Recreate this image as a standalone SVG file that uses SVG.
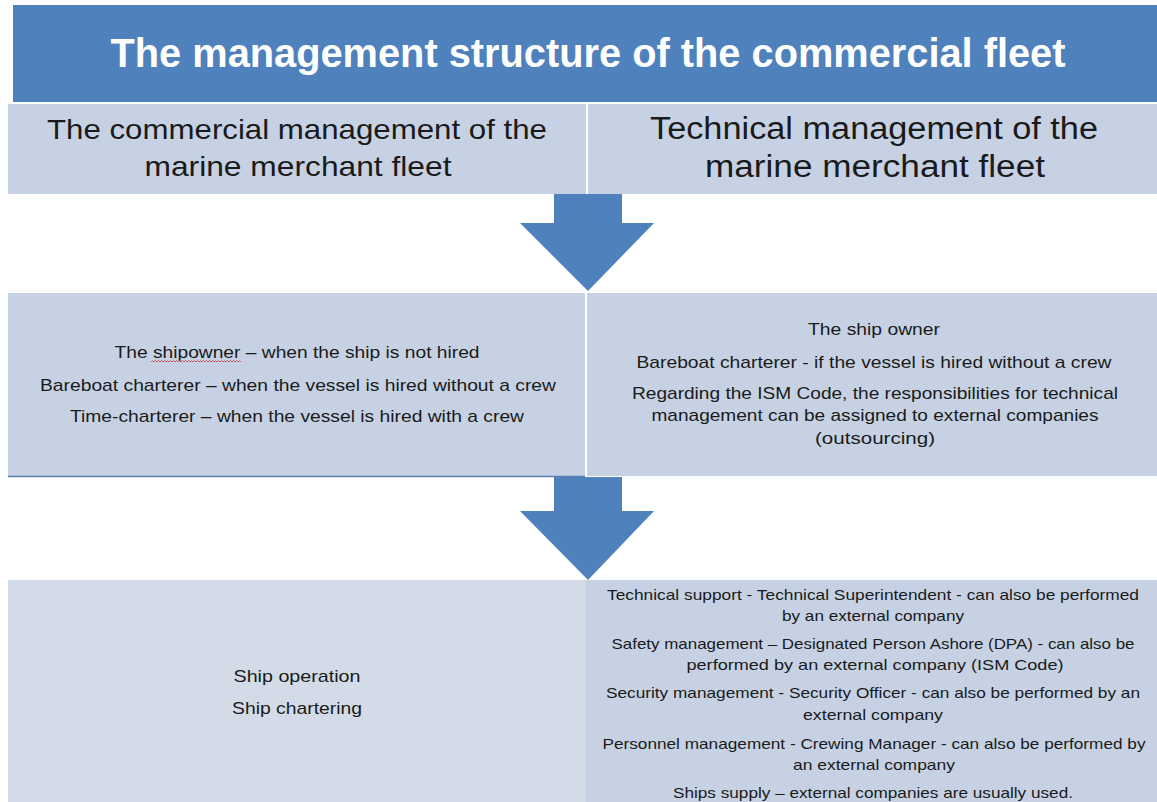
<svg xmlns="http://www.w3.org/2000/svg" width="1157" height="802" viewBox="0 0 1157 802">
  <style>
    .band { fill: #4f81bd; }
    .cell { fill: #c6d2e4; }
    .cell-lt { fill: #d3dbe8; }
    .arrow { fill: #4f81bd; }
    text { font-family: "Liberation Sans", Arial, sans-serif; fill: #1a1a1a; text-anchor: middle; }
    .title { font-weight: bold; font-size: 40px; fill: #ffffff; }
    .hdr { font-size: 28px; }
    .hdr-r { font-size: 31px; }
    .mid { font-size: 17px; }
    .low { font-size: 15px; }
    .squiggle { fill: none; stroke: #d0303a; stroke-width: 0.8; }
  </style>

  <rect width="1157" height="802" fill="#ffffff"/>

  <!-- Title band -->
  <g id="title">
    <rect class="band" x="13" y="5" width="1144" height="97"/>
    <text class="title" x="588" y="67" textLength="955" lengthAdjust="spacingAndGlyphs">The management structure of the commercial fleet</text>
  </g>

  <!-- Column headers -->
  <g id="hdr-commercial">
    <rect class="cell" x="8" y="104" width="578" height="90"/>
    <text class="hdr" x="297" y="139" textLength="500" lengthAdjust="spacingAndGlyphs">The commercial management of the</text>
    <text class="hdr" x="298" y="176" textLength="307" lengthAdjust="spacingAndGlyphs">marine merchant fleet</text>
  </g>
  <g id="hdr-technical">
    <rect class="cell" x="588" y="104" width="569" height="90"/>
    <text class="hdr-r" x="874" y="139" textLength="448" lengthAdjust="spacingAndGlyphs">Technical management of the</text>
    <text class="hdr-r" x="875" y="177" textLength="340" lengthAdjust="spacingAndGlyphs">marine merchant fleet</text>
  </g>

  <!-- Middle row -->
  <g id="who-commercial">
    <rect class="cell" x="8" y="293" width="577" height="183"/>
    <line x1="8" y1="476.5" x2="585" y2="476.5" stroke="#5b7fb0" stroke-width="1.5"/>
    <text class="mid" x="297" y="358" textLength="365" lengthAdjust="spacingAndGlyphs">The shipowner – when the ship is not hired</text>
    <!-- spell-check wave under "shipowner" -->
    <path class="squiggle" d="M151,362 l1.5,-1.5 l1.5,1.5 l1.5,-1.5 l1.5,1.5 l1.5,-1.5 l1.5,1.5 l1.5,-1.5 l1.5,1.5 l1.5,-1.5 l1.5,1.5 l1.5,-1.5 l1.5,1.5 l1.5,-1.5 l1.5,1.5 l1.5,-1.5 l1.5,1.5 l1.5,-1.5 l1.5,1.5 l1.5,-1.5 l1.5,1.5 l1.5,-1.5 l1.5,1.5 l1.5,-1.5 l1.5,1.5 l1.5,-1.5 l1.5,1.5 l1.5,-1.5 l1.5,1.5 l1.5,-1.5 l1.5,1.5 l1.5,-1.5 l1.5,1.5 l1.5,-1.5 l1.5,1.5 l1.5,-1.5 l1.5,1.5 l1.5,-1.5 l1.5,1.5 l1.5,-1.5 l1.5,1.5 l1.5,-1.5 l1.5,1.5 l1.5,-1.5 l1.5,1.5 l1.5,-1.5 l1.5,1.5 l1.5,-1.5 l1.5,1.5 l1.5,-1.5 l1.5,1.5 l1.5,-1.5 l1.5,1.5 l1.5,-1.5 l1.5,1.5 l1.5,-1.5 l1.5,1.5 l1.5,-1.5 l1.5,1.5 l1.5,-1.5 l1.5,1.5"/>
    <text class="mid" x="298" y="391" textLength="516" lengthAdjust="spacingAndGlyphs">Bareboat charterer – when the vessel is hired without a crew</text>
    <text class="mid" x="297" y="422" textLength="454" lengthAdjust="spacingAndGlyphs">Time-charterer – when the vessel is hired with a crew</text>
  </g>
  <g id="who-technical">
    <rect class="cell" x="587" y="293" width="570" height="183"/>
    <text class="mid" x="874" y="335" textLength="132" lengthAdjust="spacingAndGlyphs">The ship owner</text>
    <text class="mid" x="874" y="368" textLength="475" lengthAdjust="spacingAndGlyphs">Bareboat charterer - if the vessel is hired without a crew</text>
    <text class="mid" x="875" y="399" textLength="486" lengthAdjust="spacingAndGlyphs">Regarding the ISM Code, the responsibilities for technical</text>
    <text class="mid" x="875" y="421" textLength="447" lengthAdjust="spacingAndGlyphs">management can be assigned to external companies</text>
    <text class="mid" x="875" y="444" textLength="120" lengthAdjust="spacingAndGlyphs">(outsourcing)</text>
  </g>

  <!-- Bottom row -->
  <g id="tasks-commercial">
    <rect class="cell-lt" x="8" y="580" width="578" height="222"/>
    <text class="mid" x="297" y="682" textLength="127" lengthAdjust="spacingAndGlyphs">Ship operation</text>
    <text class="mid" x="297" y="714" textLength="130" lengthAdjust="spacingAndGlyphs">Ship chartering</text>
  </g>
  <g id="tasks-technical">
    <rect class="cell" x="586" y="580" width="571" height="222"/>
    <text class="low" x="873" y="600" textLength="532" lengthAdjust="spacingAndGlyphs">Technical support - Technical Superintendent - can also be performed</text>
    <text class="low" x="873" y="621" textLength="182" lengthAdjust="spacingAndGlyphs">by an external company</text>
    <text class="low" x="873" y="649" textLength="523" lengthAdjust="spacingAndGlyphs">Safety management – Designated Person Ashore (DPA) - can also be</text>
    <text class="low" x="875" y="670" textLength="377" lengthAdjust="spacingAndGlyphs">performed by an external company (ISM Code)</text>
    <text class="low" x="873" y="698" textLength="534" lengthAdjust="spacingAndGlyphs">Security management - Security Officer - can also be performed by an</text>
    <text class="low" x="873" y="720" textLength="140" lengthAdjust="spacingAndGlyphs">external company</text>
    <text class="low" x="874" y="749" textLength="543" lengthAdjust="spacingAndGlyphs">Personnel management - Crewing Manager - can also be performed by</text>
    <text class="low" x="874" y="770" textLength="162" lengthAdjust="spacingAndGlyphs">an external company</text>
    <text class="low" x="873" y="798" textLength="400" lengthAdjust="spacingAndGlyphs">Ships supply – external companies are usually used.</text>
  </g>

  <!-- Block arrows between rows -->
  <g id="connectors">
    <polygon class="arrow" points="554,194 622,194 622,223 654,223 588,291 520,223 554,223"/>
    <polygon class="arrow" points="554,477 622,477 622,511 654,511 588,580 520,511 554,511"/>
  </g>
</svg>
